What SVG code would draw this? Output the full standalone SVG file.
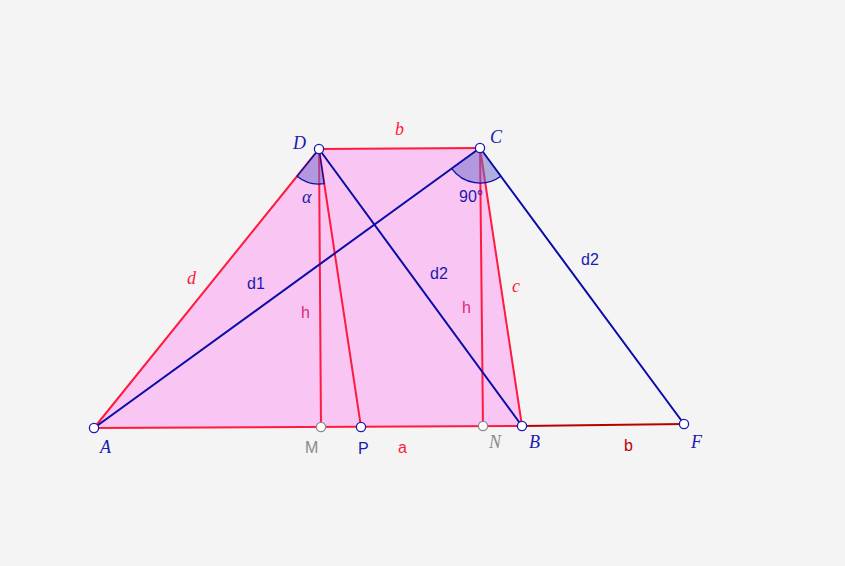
<svg xmlns="http://www.w3.org/2000/svg" width="845" height="566" viewBox="0 0 845 566">
<style>
.red{stroke:#ff1a40;stroke-width:2;fill:none;stroke-linecap:round}
.blue{stroke:#0a0aa8;stroke-width:2;fill:none;stroke-linecap:round}
.dred{stroke:#b80000;stroke-width:2;fill:none}
.ang{fill:#6a6acc;fill-opacity:0.5;stroke:#0a0aa8;stroke-width:1.2}
.pt{fill:#ffffff;stroke:#1a1ab0;stroke-width:1.3}
.ptg{fill:#ffffff;stroke:#8a8a8a;stroke-width:1.3}
.lbl{font-family:"Liberation Serif",serif;font-style:italic;font-size:18px}
.sans{font-family:"Liberation Sans",Arial,sans-serif;font-size:16px}
</style>
<rect width="845" height="566" fill="#f4f4f4"/>
<g id="trapezoid">
<polygon points="94,428 522,426 480,148 319,149" fill="#f9c6f3"/>
</g>
<g id="connectors">
<line class="dred" x1="522" y1="426" x2="684" y2="424"/>
<line class="red" x1="94" y1="428" x2="522" y2="426"/>
<line class="red" x1="522" y1="426" x2="480" y2="148"/>
<line class="red" x1="480" y1="148" x2="319" y2="149"/>
<line class="red" x1="319" y1="149" x2="94" y2="428"/>
<line class="red" x1="319" y1="149" x2="321" y2="427"/>
<line class="red" x1="480" y1="148" x2="483" y2="426"/>
<line class="red" x1="319" y1="149" x2="361" y2="427"/>
<line class="blue" x1="94" y1="428" x2="480" y2="148"/>
<line class="blue" x1="319" y1="149" x2="522" y2="426"/>
<line class="blue" x1="480" y1="148" x2="684" y2="424"/>
</g>
<g id="angles">
<path class="ang" d="M319,149 L297,176.2 A35,35 0 0 0 324.2,183.6 Z"/>
<path class="ang" d="M480,148 L451.7,168.6 A35,35 0 0 0 500.8,176.2 Z"/>
</g>
<g id="points">
<circle id="A" class="pt" cx="94" cy="428" r="4.6"/>
<circle id="B" class="pt" cx="522" cy="426" r="4.6"/>
<circle id="C" class="pt" cx="480" cy="148" r="4.6"/>
<circle id="D" class="pt" cx="319" cy="149" r="4.6"/>
<circle id="F" class="pt" cx="684" cy="424" r="4.6"/>
<circle id="P" class="pt" cx="361" cy="427" r="4.6"/>
<circle id="M" class="ptg" cx="321" cy="427" r="4.6"/>
<circle id="N" class="ptg" cx="483" cy="426" r="4.6"/>
</g>
<g id="labels">
<text class="lbl" x="293" y="149" fill="#1a1ab0">D</text>
<text class="lbl" x="490" y="143" fill="#1a1ab0">C</text>
<text class="lbl" x="100" y="453" fill="#1a1ab0">A</text>
<text class="lbl" x="529" y="448" fill="#1a1ab0">B</text>
<text class="lbl" x="691" y="448" fill="#1a1ab0">F</text>
<text class="lbl" x="489" y="448" fill="#8a8a8a">N</text>
<text class="sans" x="305" y="453" fill="#8a8a8a">M</text>
<text class="sans" x="358" y="454" fill="#1a1ab0">P</text>
<text class="lbl" x="395" y="135" fill="#ff1a40">b</text>
<text class="lbl" x="187" y="284" fill="#ff1a40">d</text>
<text class="lbl" x="512" y="292" fill="#ff1a40">c</text>
<text class="sans" x="398" y="453" fill="#ff1a40">a</text>
<text class="sans" x="624" y="451" fill="#c00000">b</text>
<text class="sans" x="247" y="289" fill="#1a1ab0">d1</text>
<text class="sans" x="430" y="279" fill="#1a1ab0">d2</text>
<text class="sans" x="581" y="265" fill="#1a1ab0">d2</text>
<text class="sans" x="301" y="318" fill="#e0287a">h</text>
<text class="sans" x="462" y="313" fill="#e0287a">h</text>
<text class="lbl" x="302" y="203" fill="#1a1ab0">α</text>
<text class="sans" x="459" y="202" fill="#1a1ab0">90°</text>
</g>
</svg>
